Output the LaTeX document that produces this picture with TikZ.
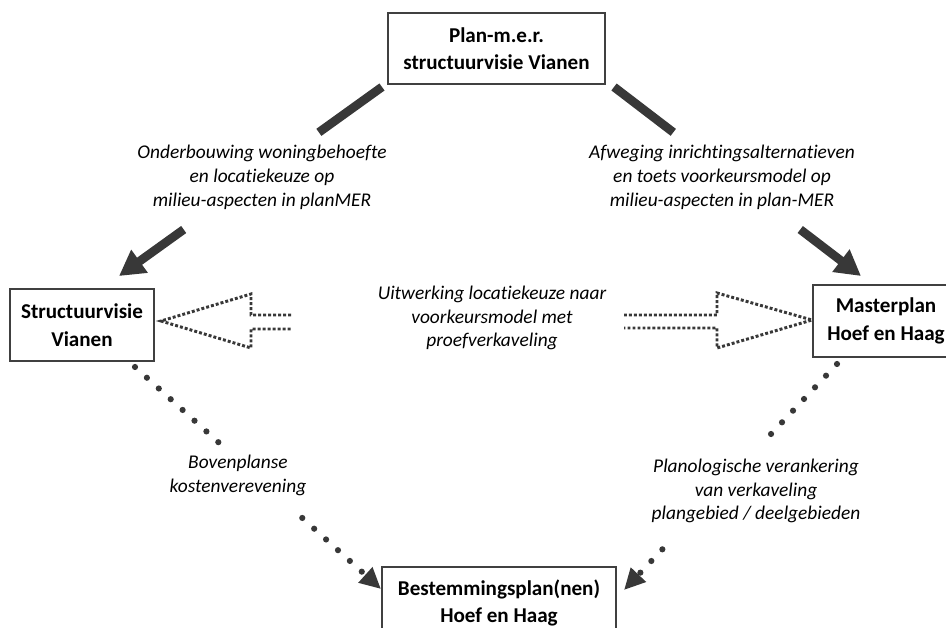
\documentclass[tikz,border=0pt]{standalone}
\usepackage{fontspec}
\setmainfont{Carlito}[Ligatures=NoCommon]
\usetikzlibrary{arrows.meta, calc}

\definecolor{ink}{HTML}{383838}
\definecolor{rim}{HTML}{404040}

\begin{document}
\begin{tikzpicture}[x=0.025cm, y=-0.025cm,
    box/.style={draw=rim, line width=1.4pt, fill=white, align=center, inner sep=2pt,
      minimum height=1.8cm, font=\fontsize{15}{19.5}\selectfont\bfseries},
    lbl/.style={align=center, font=\fontsize{13.8}{17}\selectfont\itshape},
    bigline/.style={draw=ink, line width=6.2pt},
    dotline/.style={draw=ink, line width=4.4pt, line cap=round, dash pattern=on 0pt off 11.4pt},
    hollow/.style={draw=ink, line width=2.1pt, dash pattern=on 2.1pt off 1.45pt}]
    \useasboundingbox (0,0) rectangle (946,628);
    \clip (0,0) rectangle (946,628);

    % vakken
    \node[box, minimum width=5.425cm, minimum height=1.775cm] (pm) at (496.5,48.5) {Plan-m.e.r.\\structuurvisie Vianen};
    \node[box, minimum width=3.6cm] (sv) at (82,325) {Structuurvisie\\Vianen};
    \node[box, minimum width=3.65cm] (mp) at (886,321) {Masterplan\\Hoef en Haag};
    \node[box, minimum width=5.85cm] (bp) at (499,603) {Bestemmingsplan(nen)\\Hoef en Haag};

    % toelichtingen
    \node[lbl] (onder) at (262,177) {Onderbouwing woningbehoefte\\en locatiekeuze op\\milieu-aspecten in planMER};
    \node[lbl] (afweg) at (722,177) {Afweging inrichtingsalternatieven\\en toets voorkeursmodel op\\milieu-aspecten in plan-MER};
    \node[lbl] (uitw) at (492,318) {Uitwerking locatiekeuze naar\\voorkeursmodel met\\proefverkaveling};
    \node[lbl] (boven) at (238,475) {Bovenplanse\\kostenverevening};
    \node[lbl] (plano) at (756,491) {Planologische verankering\\van verkaveling\\plangebied / deelgebieden};

    % dikke pijlen vanuit plan-m.e.r., onderbroken door de tekst
    \coordinate (a1) at ($(pm.south west)+(-5,2)$);
    \coordinate (b1) at ($(sv.north east)+(-36,-12)$);
    \draw[bigline] (a1) -- ($(a1)!0.24!(b1)$);
    \draw[bigline, -{Triangle[length=18pt, width=19pt]}] ($(a1)!0.754!(b1)$) -- (b1);

    \coordinate (a2) at ($(pm.south east)+(8,2)$);
    \coordinate (b2) at ($(mp.north west)+(49,-8)$);
    \draw[bigline] (a2) -- ($(a2)!0.24!(b2)$);
    \draw[bigline, -{Triangle[length=18pt, width=19pt]}] ($(a2)!0.754!(b2)$) -- (b2);

    % holle pijlen (gestippeld)
    \draw[hollow] ($(sv.east)+(136,-10)$) -- ++(-40,0) -- ++(0,-21) -- ($(sv.east)+(6,-4)$)
      -- ++(90,27) -- ++(0,-19) -- ++(40,0);
    \draw[hollow] ($(mp.west)+(-188,-6)$) -- ++(93,0) -- ++(0,-22) -- ($(mp.west)+(0,-1)$)
      -- ++(-95,28) -- ++(0,-20) -- ++(-93,0);

    % stippellijnen naar het bestemmingsplan
    \coordinate (a3) at ($(sv.south east)+(-20,5)$);
    \coordinate (b3) at ($(bp.north west)+(0,23)$);
    \draw[dotline] (a3) -- ($(a3)!0.34!(b3)$);
    \draw[dotline, -{Triangle[length=15pt, width=14pt]}] ($(a3)!0.68!(b3)$) -- (b3);

    \coordinate (a4) at ($(mp.south west)+(25,6)$);
    \coordinate (b4) at ($(bp.north east)+(7,24)$);
    \draw[dotline] (a4) -- ($(a4)!0.36!(b4)$);
    \draw[dotline, -{Triangle[length=15pt, width=14pt]}] ($(a4)!0.82!(b4)$) -- (b4);
\end{tikzpicture}
\end{document}
